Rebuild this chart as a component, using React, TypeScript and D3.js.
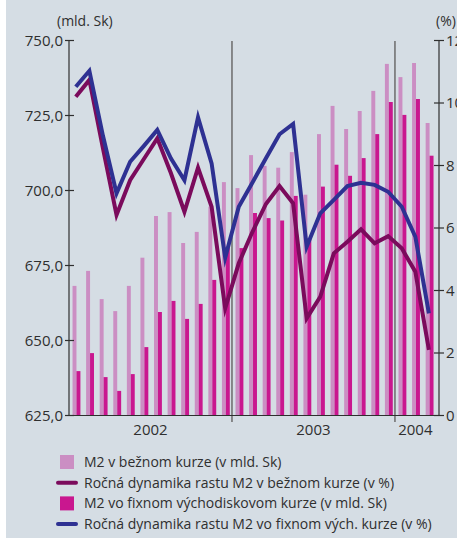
import React from 'react';
import * as d3 from 'd3';

// months shown (yyyy-mm)
const months = [
  '2002-01', '2002-02', '2002-03', '2002-04', '2002-05', '2002-06', '2002-07', '2002-08', '2002-09', '2002-10', '2002-11', '2002-12',
  '2003-01', '2003-02', '2003-03', '2003-04', '2003-05', '2003-06', '2003-07', '2003-08', '2003-09', '2003-10', '2003-11', '2003-12',
  '2004-01', '2004-02', '2004-03',
];

// M2 v bežnom kurze (mld. Sk)
const m2Current = [668.2, 673.2, 663.8, 659.8, 668.2, 677.6, 691.5, 692.8, 682.5, 686.2, 694.6, 702.8,
  700.8, 711.8, 708.2, 707.6, 712.8, 698.6, 718.8, 728.2, 720.5, 726.5, 733.2, 742.2,
  737.8, 742.5, 722.5];

// M2 vo fixnom východiskovom kurze (mld. Sk)
const m2Fixed = [639.8, 645.8, 637.8, 633.2, 638.8, 647.8, 659.5, 663.2, 657.2, 662.2, 670.2, 681.0,
  680.8, 692.5, 690.8, 690.0, 698.2, 684.0, 701.3, 708.6, 704.9, 710.8, 718.8, 729.5,
  725.2, 730.5, 711.6];

// ročná dynamika v bežnom kurze (%)
const growthCurrent = [10.2, 10.74, 8.55, 6.42, 7.53, 8.2, 8.87, 7.76, 6.52, 7.93, 6.68, 3.43,
  4.87, 5.87, 6.77, 7.34, 6.79, 3.11, 3.8, 5.19, 5.56, 5.96, 5.51, 5.74,
  5.35, 4.6, 2.1];

// ročná dynamika vo fixnom kurze (%)
const growthFixed = [10.52, 11.03, 8.95, 7.11, 8.12, 8.62, 9.14, 8.23, 7.53, 9.54, 8.07, 5.05,
  6.68, 7.45, 8.23, 9.0, 9.33, 5.4, 6.47, 6.9, 7.34, 7.45, 7.38, 7.16,
  6.68, 5.72, 3.27];

const leftTicks = [625, 650, 675, 700, 725, 750];
const rightTicks = [0, 2, 4, 6, 8, 10, 12];

const legendItems = [
  { label: 'M2 v bežnom kurze (v mld. Sk)', kind: 'bar', color: '#cb8ec3' },
  { label: 'Ročná dynamika rastu M2 v bežnom kurze (v %)', kind: 'line', color: '#7b0b5c' },
  { label: 'M2 vo fixnom východiskovom kurze (v mld. Sk)', kind: 'bar', color: '#c9178f' },
  { label: 'Ročná dynamika rastu M2 vo fixnom vých. kurze (v %)', kind: 'line', color: '#2e3192' },
];

const W = 457, H = 538;
const LEFT = 69, RIGHT = 439, TOP = 40.5, BOTTOM = 415.5;
const FONT = '"Open Sans", sans-serif';
const INK = '#2f2f2f';

export default function App() {
  const x = d3.scaleBand<number>().domain(d3.range(months.length)).range([LEFT, 435.7]);
  const bw = x.bandwidth();
  const yL = d3.scaleLinear().domain([625, 750]).range([BOTTOM, TOP]);
  const yR = d3.scaleLinear().domain([0, 12]).range([BOTTOM, TOP]);

  const line = d3.line<number>()
    .x((_, i) => (x(i) as number) + bw * 0.5)
    .y(d => yR(d));

  const years = Array.from(d3.group(months.map((m, i) => ({ y: m.slice(0, 4), i })), d => d.y));
  const dividers = years.slice(1).map(([, arr]) => x(arr[0].i) as number);

  return (
    <svg width={W} height={H} style={{ position: 'absolute', left: 0, top: 0, fontFamily: FONT }}>
      <rect x={6} y={0} width={W - 6} height={H} fill="#d5dde4" />

      {/* bars */}
      {m2Current.map((v, i) => (
        <rect key={'c' + i} x={(x(i) as number) + bw * 0.26} y={yL(v)} width={bw * 0.29} height={BOTTOM - yL(v)} fill="#cb8ec3" />
      ))}
      {m2Fixed.map((v, i) => (
        <rect key={'f' + i} x={(x(i) as number) + bw * 0.55} y={yL(v)} width={bw * 0.29} height={BOTTOM - yL(v)} fill="#c9178f" />
      ))}

      {/* year dividers */}
      {dividers.map((dx, i) => (
        <line key={i} x1={dx} x2={dx} y1={41} y2={422} stroke="#6b6b6b" strokeWidth={1.5} />
      ))}

      {/* lines */}
      <path d={line(growthCurrent) || ''} fill="none" stroke="#7b0b5c" strokeWidth={4} strokeLinejoin="miter" strokeMiterlimit={6} />
      <path d={line(growthFixed) || ''} fill="none" stroke="#2e3192" strokeWidth={4} strokeLinejoin="miter" strokeMiterlimit={6} />

      {/* axes */}
      <line x1={LEFT} x2={LEFT} y1={TOP} y2={BOTTOM} stroke={INK} strokeWidth={1.2} />
      <line x1={RIGHT} x2={RIGHT} y1={TOP} y2={BOTTOM} stroke={INK} strokeWidth={1.2} />
      <line x1={LEFT} x2={RIGHT} y1={BOTTOM} y2={BOTTOM} stroke={INK} strokeWidth={1.2} />
      {leftTicks.map(t => (
        <g key={t}>
          <line x1={LEFT - 4} x2={LEFT + 5} y1={yL(t)} y2={yL(t)} stroke={INK} strokeWidth={1.2} />
          <text x={LEFT - 6} y={yL(t)} dy="0.35em" textAnchor="end" fontSize={15} fill={INK}>
            {d3.format('.1f')(t).replace('.', ',')}
          </text>
        </g>
      ))}
      {rightTicks.map(t => (
        <g key={t}>
          <line x1={RIGHT - 5} x2={RIGHT + 5} y1={yR(t)} y2={yR(t)} stroke={INK} strokeWidth={1.2} />
          <text x={RIGHT + 7} y={yR(t)} dy="0.35em" fontSize={15} fill={INK}>{t}</text>
        </g>
      ))}
      <text x={57} y={26} fontSize={14} fill={INK}>(mld. Sk)</text>
      <text x={436} y={26} fontSize={14} fill={INK}>(%)</text>

      {years.map(([yr, arr]) => {
        const a = x(arr[0].i) as number;
        const b = (x(arr[arr.length - 1].i) as number) + bw;
        return (
          <text key={yr} x={(a + b) / 2} y={435} textAnchor="middle" fontSize={15} fill={INK}>{yr}</text>
        );
      })}

      {/* legend */}
      {legendItems.map((it, i) => {
        const cy = 462 + i * 20.7;
        return (
          <g key={i}>
            {it.kind === 'bar'
              ? <rect x={60} y={cy - 7} width={14} height={14} fill={it.color} />
              : <line x1={58} x2={76} y1={cy} y2={cy} stroke={it.color} strokeWidth={4} strokeLinecap="round" />}
            <text x={84} y={cy} dy="0.35em" fontSize={14} fill={INK}>{it.label}</text>
          </g>
        );
      })}
    </svg>
  );
}
